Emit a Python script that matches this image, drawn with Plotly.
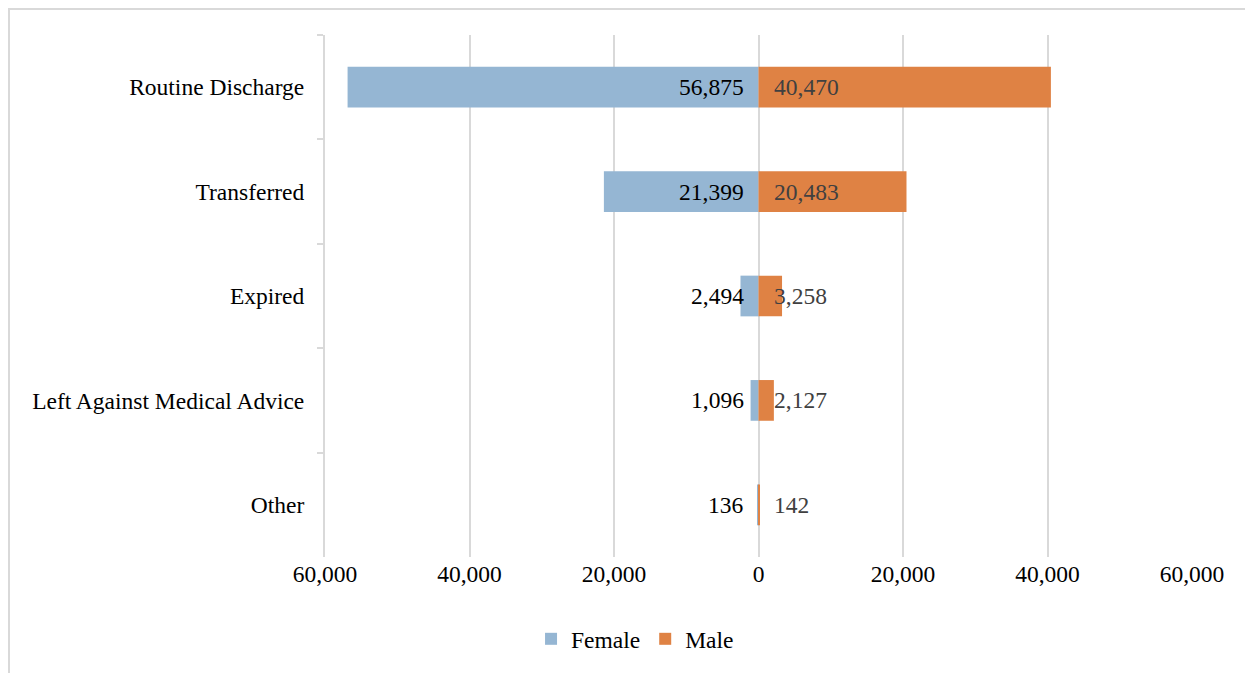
import plotly.graph_objects as go

# discharge disposition by sex
categories = ["Routine Discharge", "Transferred", "Expired",
              "Left Against Medical Advice", "Other"]
female = [56875, 21399, 2494, 1096, 136]
male = [40470, 20483, 3258, 2127, 142]
tick_vals = [-60000, -40000, -20000, 0, 20000, 40000, 60000]
tick_text = ["60,000", "40,000", "20,000", "0", "20,000", "40,000", "60,000"]

FONT = "Liberation Serif, Times New Roman, serif"
FS = 23.5

fig = go.Figure()
fig.add_trace(go.Bar(y=categories, x=[-v for v in female], name="Female",
                     orientation="h", marker_color="#95B6D3", width=0.39,
                     marker_line_width=0, hoverinfo="skip"))
fig.add_trace(go.Bar(y=categories, x=male, name="Male",
                     orientation="h", marker_color="#DF8244", width=0.39,
                     marker_line_width=0, hoverinfo="skip"))

# value labels placed at the base of each bar
for cat, f, m in zip(categories, female, male):
    fig.add_annotation(x=0, y=cat, text=f"{f:,}", showarrow=False,
                       xanchor="right", xshift=-13,
                       font=dict(family=FONT, size=FS, color="#000000"))
    fig.add_annotation(x=0, y=cat, text=f"{m:,}", showarrow=False,
                       xanchor="left", xshift=13,
                       font=dict(family=FONT, size=FS, color="#404040"))

# outer chart frame
fig.add_shape(type="rect", xref="paper", yref="paper",
              x0=-0.3645, x1=1.2, y0=-0.4, y1=1.0498,
              line=dict(color="#d9d9d9", width=2), layer="below")

fig.update_layout(
    barmode="relative",
    width=1245, height=665,
    margin=dict(l=317, r=61, t=27, b=116),
    paper_bgcolor="white", plot_bgcolor="white",
    font=dict(family=FONT, size=FS, color="#000000"),
    showlegend=True,
    legend=dict(orientation="h", x=0.3576, xanchor="center", y=-0.115,
                yanchor="top", font=dict(family=FONT, size=FS),
                traceorder="normal", itemwidth=30),
    xaxis=dict(range=[-60000, 60000], tickvals=tick_vals, ticktext=tick_text,
               showgrid=True, gridcolor="#d9d9d9", gridwidth=2,
               zeroline=False, showline=False, ticks="", fixedrange=True,
               tickfont=dict(family=FONT, size=FS)),
    yaxis=dict(autorange="reversed", showgrid=False, showline=True,
               linecolor="#d9d9d9", linewidth=2, ticks="outside",
               tickson="boundaries", tickcolor="#d9d9d9", ticklen=6,
               tickwidth=2, ticklabelstandoff=14,
               tickfont=dict(family=FONT, size=FS)),
)

fig.write_html("out.html")
